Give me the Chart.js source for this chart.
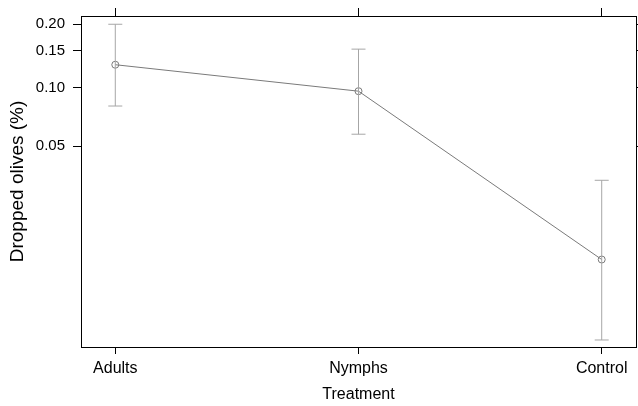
<!DOCTYPE html>
<html>
<head>
<meta charset="utf-8">
<script src="https://cdn.jsdelivr.net/npm/chart.js@4"></script>
<style>
  html, body { margin: 0; padding: 0; background: #fff; }
  #wrap { width: 638px; height: 406px; }
</style>
</head>
<body>
<div id="wrap"><canvas id="chart"></canvas></div>
<script>
// Data
const CATEGORIES = ['Adults', 'Nymphs', 'Control'];
const FIT = [0.129, 0.096, 0.0078];
const LOWER = [0.081, 0.058, -0.0032];
const UPPER = [0.200, 0.153, 0.032];
const Y_TICKS = [0.05, 0.10, 0.15, 0.20];
const Y_TICK_LABELS = ['0.05', '0.10', '0.15', '0.20'];
const Y_LIMITS = [-0.0038, 0.2184];
const X_LIMITS = [0.859, 3.141];

// the y axis is log10(y + offset)
const OFFSET = 0.012;
const tr = (v) => Math.log10(v + OFFSET);

const LINE_COLOR = '#7a7a7a';
const CI_COLOR = '#a6a6a6';
const FONT = 'Liberation Sans, Arial, Helvetica, sans-serif';

// Datasets
const fitPoints = FIT.map((v, i) => ({ x: i + 1, y: tr(v) }));
const ciPoints = [];
CATEGORIES.forEach((c, i) => {
	ciPoints.push({ x: i + 1, y: tr(LOWER[i]) });
	ciPoints.push({ x: i + 1, y: tr(UPPER[i]) });
	ciPoints.push({ x: i + 1.5, y: null });
});

// Axis helpers
const catTicks = (scale) => {
	scale.ticks = CATEGORIES.map((c, i) => ({ value: i + 1 }));
};
const valTicks = (scale) => {
	scale.ticks = Y_TICKS.map((v) => ({ value: tr(v) }));
};
// fixed axis size, and no extra room for overhanging labels
const fixSize = (size) => (scale) => {
	if (scale.isHorizontal()) scale.height = size;
	else scale.width = size;
	scale.paddingLeft = 0;
	scale.paddingRight = 0;
	scale.paddingTop = 0;
	scale.paddingBottom = 0;
};
const tickGrid = (len) => ({
	drawOnChartArea: false,
	drawTicks: true,
	tickLength: len,
	tickColor: '#000',
	tickWidth: 1,
});
const border = { display: true, color: '#000', width: 1 };

new Chart(document.getElementById('chart'), {
	type: 'line',
	data: {
		datasets: [
			{
				label: 'ci',
				data: ciPoints,
				borderColor: CI_COLOR,
				borderWidth: 1,
				spanGaps: false,
				pointStyle: 'line',
				pointRadius: 7,
				pointBorderColor: CI_COLOR,
				pointBorderWidth: 1,
				fill: false,
			},
			{
				label: 'fit',
				data: fitPoints,
				borderColor: LINE_COLOR,
				borderWidth: 1,
				tension: 0,
				pointStyle: 'circle',
				pointRadius: 3.5,
				pointBorderColor: LINE_COLOR,
				pointBackgroundColor: 'rgba(0,0,0,0)',
				pointBorderWidth: 1,
				fill: false,
			},
		],
	},
	options: {
		responsive: true,
		maintainAspectRatio: false,
		animation: false,
		layout: { padding: 0, autoPadding: false },
		plugins: { legend: { display: false }, tooltip: { enabled: false } },
		scales: {
			x: {
				type: 'linear',
				position: 'bottom',
				min: X_LIMITS[0],
				max: X_LIMITS[1],
				afterBuildTicks: catTicks,
				afterFit: fixSize(59),
				grid: tickGrid(7),
				border,
				ticks: {
					autoSkip: false,
					maxRotation: 0,
					padding: 5,
					color: '#000',
					font: { family: FONT, size: 16 },
					callback: (v, i) => CATEGORIES[i],
				},
				title: {
					display: true,
					text: 'Treatment',
					color: '#000',
					font: { family: FONT, size: 16 },
					padding: { top: 0, bottom: 2 },
				},
			},
			x2: {
				type: 'linear',
				position: 'top',
				min: X_LIMITS[0],
				max: X_LIMITS[1],
				afterBuildTicks: catTicks,
				afterFit: fixSize(16),
				grid: tickGrid(8),
				border,
				ticks: { display: false },
			},
			y: {
				type: 'linear',
				position: 'left',
				min: tr(Y_LIMITS[0]),
				max: tr(Y_LIMITS[1]),
				afterBuildTicks: valTicks,
				afterFit: fixSize(81),
				grid: tickGrid(8),
				border,
				ticks: {
					autoSkip: false,
					padding: 8,
					color: '#000',
					font: { family: FONT, size: 15 },
					callback: (v, i) => Y_TICK_LABELS[i],
				},
				title: {
					display: true,
					text: 'Dropped olives (%)',
					color: '#000',
					font: { family: FONT, size: 19 },
					padding: { top: 6, bottom: 0 },
				},
			},
			y2: {
				type: 'linear',
				position: 'right',
				min: tr(Y_LIMITS[0]),
				max: tr(Y_LIMITS[1]),
				afterBuildTicks: valTicks,
				afterFit: fixSize(2),
				grid: tickGrid(8),
				border,
				ticks: { display: false },
			},
		},
	},
});
</script>
</body>
</html>
